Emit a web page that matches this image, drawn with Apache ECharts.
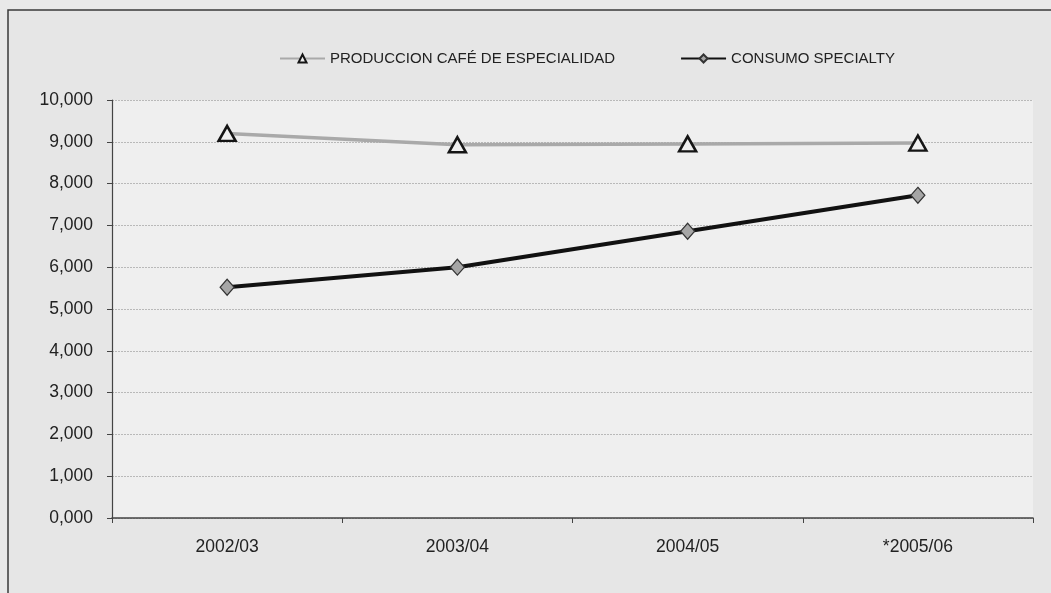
<!DOCTYPE html>
<html>
<head>
<meta charset="utf-8">
<script src="https://cdn.jsdelivr.net/npm/echarts@6/dist/echarts.min.js"></script>
<style>
  html, body { margin: 0; padding: 0; background: #e9e9e9; }
  #chart { width: 1051px; height: 593px; }
</style>
</head>
<body>
<div id="chart"></div>
<script>
// Campaigns (coffee years)
const categories = ['2002/03', '2003/04', '2004/05', '*2005/06'];
// Specialty coffee production (thousand bags)
const produccion = [9200, 8930, 8950, 8970];
// Specialty coffee consumption (thousand bags)
const consumo = [5520, 6000, 6860, 7720];
// Value axis ticks
const yTicks = [0, 1000, 2000, 3000, 4000, 5000, 6000, 7000, 8000, 9000, 10000];

const FONT = '"Liberation Sans", Arial, sans-serif';

const chart = echarts.init(document.getElementById('chart'), null, { renderer: 'canvas' });

chart.setOption({
  animation: false,
  backgroundColor: '#e9e9e9',
  textStyle: { fontFamily: FONT },
  graphic: [{
    type: 'rect',
    z: -10,
    silent: true,
    shape: { x: 8, y: 10, width: 1200, height: 800 },
    style: { fill: '#e6e6e6', stroke: '#3a3a3a', lineWidth: 1.5 }
  }],
  legend: {
    top: 51,
    left: 279,
    padding: 0,
    itemWidth: 45,
    itemHeight: 10,
    itemGap: 65,
    textStyle: { fontFamily: FONT, fontSize: 15, color: '#222' },
    data: [
      { name: 'PRODUCCION CAFÉ DE ESPECIALIDAD' },
      { name: 'CONSUMO SPECIALTY' }
    ]
  },
  grid: {
    left: 112,
    right: 18,
    top: 100,
    bottom: 75,
    show: true,
    backgroundColor: '#efefef',
    borderWidth: 0
  },
  xAxis: {
    type: 'category',
    data: categories,
    boundaryGap: true,
    axisLine: { lineStyle: { color: '#444', width: 1.5 } },
    axisTick: { show: true, alignWithLabel: false, length: 5, lineStyle: { color: '#444' } },
    axisLabel: { fontFamily: FONT, fontSize: 17.5, color: '#222', margin: 20 },
    splitLine: { show: false }
  },
  yAxis: {
    type: 'value',
    min: yTicks[0],
    max: yTicks[yTicks.length - 1],
    interval: 1000,
    axisLine: { show: true, lineStyle: { color: '#444', width: 1.2 } },
    axisTick: { show: true, length: 5, lineStyle: { color: '#444' } },
    axisLabel: {
      fontFamily: FONT, fontSize: 17.5, color: '#222', margin: 19,
      formatter: v => (v / 1000) + ',000'
    },
    splitLine: { show: true, lineStyle: { color: '#b9b9b9', width: 1, type: [2, 1] } }
  },
  series: [
    {
      name: 'PRODUCCION CAFÉ DE ESPECIALIDAD',
      type: 'line',
      data: produccion,
      symbol: 'triangle',
      symbolSize: [17, 15],
      lineStyle: { color: '#a9a9a9', width: 3.5 },
      itemStyle: { color: '#efefef', borderColor: '#151515', borderWidth: 2.5 },
      z: 2
    },
    {
      name: 'CONSUMO SPECIALTY',
      type: 'line',
      data: consumo,
      symbol: 'diamond',
      symbolSize: [14, 16],
      lineStyle: { color: '#111', width: 4 },
      itemStyle: { color: '#a6a6a6', borderColor: '#333', borderWidth: 1.2 },
      z: 3
    }
  ]
});
</script>
</body>
</html>
